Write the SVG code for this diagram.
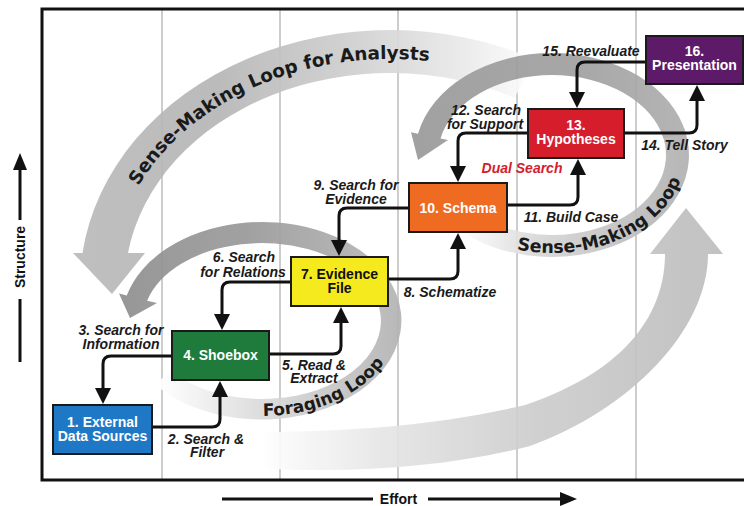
<svg xmlns="http://www.w3.org/2000/svg" width="744" height="506" viewBox="0 0 744 506">
<style>
.grid{stroke:#bdbdbd;stroke-width:1.5;fill:none}
.conn{stroke:#111;stroke-width:3;fill:none;stroke-linejoin:round;marker-end:url(#ah)}
.node rect{stroke:#1a1a1a;stroke-width:2}
.box{font-family:"Liberation Sans",Arial,sans-serif;font-size:14px;font-weight:bold;fill:#fff;text-anchor:middle}
.lbl{font-family:"Liberation Sans",Arial,sans-serif;font-size:14px;font-weight:bold;font-style:italic;fill:#1a1a1a;text-anchor:middle}
.band{font-family:"DejaVu Sans","Liberation Sans",sans-serif;font-weight:bold;fill:#1a1a1a}
.axis{font-family:"Liberation Sans",Arial,sans-serif;font-size:14px;font-weight:bold;fill:#111;text-anchor:middle}
.axl{stroke:#111;stroke-width:3;fill:none}
.loop{opacity:0.92}
</style>
<defs>
<marker id="ah" markerUnits="userSpaceOnUse" markerWidth="18" markerHeight="16" refX="10" refY="8" orient="auto">
<path d="M0,0 L16,8 L0,16 Z" fill="#111"/>
</marker>
<linearGradient id="gBig" gradientUnits="userSpaceOnUse" x1="80" y1="0" x2="540" y2="0">
<stop offset="0" stop-color="#bababa"/><stop offset="0.3" stop-color="#b6b6b6"/><stop offset="0.6" stop-color="#d0d0d0"/><stop offset="0.85" stop-color="#ececec"/><stop offset="1" stop-color="#ffffff"/>
</linearGradient>
<linearGradient id="gFd" gradientUnits="userSpaceOnUse" x1="120" y1="0" x2="380" y2="0">
<stop offset="0" stop-color="#8f8f8f"/><stop offset="0.5" stop-color="#9a9a9a"/><stop offset="1" stop-color="#b5b5b5"/>
</linearGradient>
<linearGradient id="gFl" gradientUnits="userSpaceOnUse" x1="160" y1="0" x2="400" y2="0">
<stop offset="0" stop-color="#ffffff"/><stop offset="0.4" stop-color="#dcdcdc"/><stop offset="1" stop-color="#b3b3b3"/>
</linearGradient>
<linearGradient id="gRd" gradientUnits="userSpaceOnUse" x1="415" y1="0" x2="690" y2="0">
<stop offset="0" stop-color="#9a9a9a"/><stop offset="0.6" stop-color="#a0a0a0"/><stop offset="1" stop-color="#b0b0b0"/>
</linearGradient>
<linearGradient id="gRl" gradientUnits="userSpaceOnUse" x1="460" y1="0" x2="690" y2="0">
<stop offset="0" stop-color="#ffffff"/><stop offset="0.35" stop-color="#d6d6d6"/><stop offset="1" stop-color="#b0b0b0"/>
</linearGradient>
<linearGradient id="gBot" gradientUnits="userSpaceOnUse" x1="260" y1="0" x2="720" y2="0">
<stop offset="0" stop-color="#ffffff"/><stop offset="0.3" stop-color="#e3e3e3"/><stop offset="0.6" stop-color="#cdcdcd"/><stop offset="1" stop-color="#bdbdbd"/>
</linearGradient>
<path id="tpBig" d="M138.3,185.9 A280 226 0 0 1 530,89.3"/>
<path id="tpFor" d="M263,416 A136 95 0 0 0 398,321"/>
<path id="tpSm" d="M516.9,249.5 A133 98 0 0 0 683,138"/>
</defs>

<rect x="0" y="0" width="744" height="506" fill="#fff"/>

<g id="grid">
<line class="grid" x1="162" y1="9" x2="162" y2="480"/>
<line class="grid" x1="280" y1="9" x2="280" y2="480"/>
<line class="grid" x1="398" y1="9" x2="398" y2="480"/>
<line class="grid" x1="517" y1="9" x2="517" y2="480"/>
<line class="grid" x1="636" y1="9" x2="636" y2="480"/>
</g>

<g id="loops" class="loop">
<path d="M250,468 C360,474 450,466 530,446 C630,410 708,330 708,254 L723,254 L686,208 L650,254 L665,254 C665,310 630,370 525,405 C440,425 350,432 250,432 Z" fill="url(#gBot)"/>
<path d="M535.5,59.9 A310 255 0 0 0 82.5,253 L73,253 L112,294 L145,253 L128,253 A265 212 0 0 1 514.4,97.8 Z" fill="url(#gBig)"/>
<path d="M154.8,384.6 A140 99 0 0 0 372.3,260 L355.8,273 A119 78 0 0 1 170.8,371.1 Z" fill="url(#gFl)"/>
<path d="M376.7,264.2 A140 99 0 0 0 126.8,295.4 L119,293.5 L130,318 L157,303 L147.1,300.8 A119 78 0 0 1 359.5,276.3 Z" fill="url(#gFd)"/>
<path d="M455.1,227.1 A137 102 0 0 0 684.3,128.6 L662.1,134.3 A114 80 0 0 1 471.4,211.6 Z" fill="url(#gRl)"/>
<path d="M686,133.8 A137 102 0 0 0 418,133.8 L411,132.3 L418,160 L448,140 L440.5,138.4 A114 80 0 0 1 663.5,138.4 Z" fill="url(#gRd)"/>
</g>

<g id="loop-labels">
<text class="band" font-size="18.4"><textPath href="#tpBig">Sense-Making Loop for Analysts</textPath></text>
<text class="band" font-size="17"><textPath href="#tpFor">Foraging Loop</textPath></text>
<text class="band" font-size="17.5"><textPath href="#tpSm">Sense-Making Loop</textPath></text>
</g>

<g id="frame">
<path d="M746,9 H42 V480 H746" stroke="#111" stroke-width="3" fill="none"/>
</g>

<g id="axes">
<line class="axl" x1="20" y1="168" x2="20" y2="220"/>
<path d="M13,170 L20,153 L27,170 Z" fill="#111"/>
<line class="axl" x1="20" y1="299" x2="20" y2="362"/>
<text class="axis" transform="translate(25,257) rotate(-90)">Structure</text>
<line class="axl" x1="222" y1="499" x2="373" y2="499"/>
<line class="axl" x1="428" y1="499" x2="562" y2="499"/>
<path d="M560,492 L577,499 L560,506 Z" fill="#111"/>
<text class="axis" x="398.5" y="503.5" font-size="13.5">Effort</text>
</g>

<g id="connectors">
<path class="conn" d="M152,427 H212 Q220,427 220,419 V387"/>
<path class="conn" d="M172,356 H111 Q103,356 103,364 V398"/>
<path class="conn" d="M269,354 H333 Q341,354 341,346 V313"/>
<path class="conn" d="M291,282 H230 Q222,282 222,290 V324"/>
<path class="conn" d="M388,279 H450 Q458,279 458,271 V239"/>
<path class="conn" d="M409,208 H347 Q339,208 339,216 V250"/>
<path class="conn" d="M507,205 H570 Q578,205 578,197 V165"/>
<path class="conn" d="M528,133 H466 Q458,133 458,141 V176"/>
<path class="conn" d="M624,133 H689 Q697,133 697,125 V91"/>
<path class="conn" d="M646,62 H585 Q577,62 577,70 V102"/>
</g>

<g id="n1" class="node">
<rect x="53" y="405" width="99" height="49" fill="#1f78c6"/>
<text class="box" x="102.5" y="427">1. External</text>
<text class="box" x="102.5" y="441">Data Sources</text>
</g>
<g id="n4" class="node">
<rect x="172" y="331" width="97" height="49" fill="#1e7b3c"/>
<text class="box" x="220.5" y="360">4. Shoebox</text>
</g>
<g id="n7" class="node">
<rect x="291" y="257" width="97" height="49" fill="#f4ea1e"/>
<text class="box" x="339.5" y="279" style="fill:#111">7. Evidence</text>
<text class="box" x="339.5" y="293" style="fill:#111">File</text>
</g>
<g id="n10" class="node">
<rect x="409" y="183" width="98" height="49" fill="#ef6b22"/>
<text class="box" x="458" y="213">10. Schema</text>
</g>
<g id="n13" class="node">
<rect x="528" y="109" width="96" height="49" fill="#d51d2c"/>
<text class="box" x="576" y="130">13.</text>
<text class="box" x="576" y="144">Hypotheses</text>
</g>
<g id="n16" class="node">
<rect x="646" y="36" width="97" height="48" fill="#5c1a68"/>
<text class="box" x="694.5" y="56">16.</text>
<text class="box" x="694.5" y="70">Presentation</text>
</g>

<g id="labels">
<text class="lbl" x="206" y="444">2. Search &amp;</text>
<text class="lbl" x="207" y="457">Filter</text>
<text class="lbl" x="121" y="335">3. Search for</text>
<text class="lbl" x="121" y="349">Information</text>
<text class="lbl" x="314" y="370">5. Read &amp;</text>
<text class="lbl" x="314" y="383">Extract</text>
<text class="lbl" x="244" y="262">6. Search</text>
<text class="lbl" x="243" y="277">for Relations</text>
<text class="lbl" x="450" y="297">8. Schematize</text>
<text class="lbl" x="356" y="190">9. Search for</text>
<text class="lbl" x="356" y="204">Evidence</text>
<text class="lbl" x="571" y="222">11. Build Case</text>
<text class="lbl" x="486" y="115">12. Search</text>
<text class="lbl" x="485" y="129">for Support</text>
<text class="lbl" x="684.5" y="150">14. Tell Story</text>
<text class="lbl" x="591" y="56">15. Reevaluate</text>
<text class="lbl" x="522" y="173" style="fill:#d51d2c">Dual Search</text>
</g>
</svg>
